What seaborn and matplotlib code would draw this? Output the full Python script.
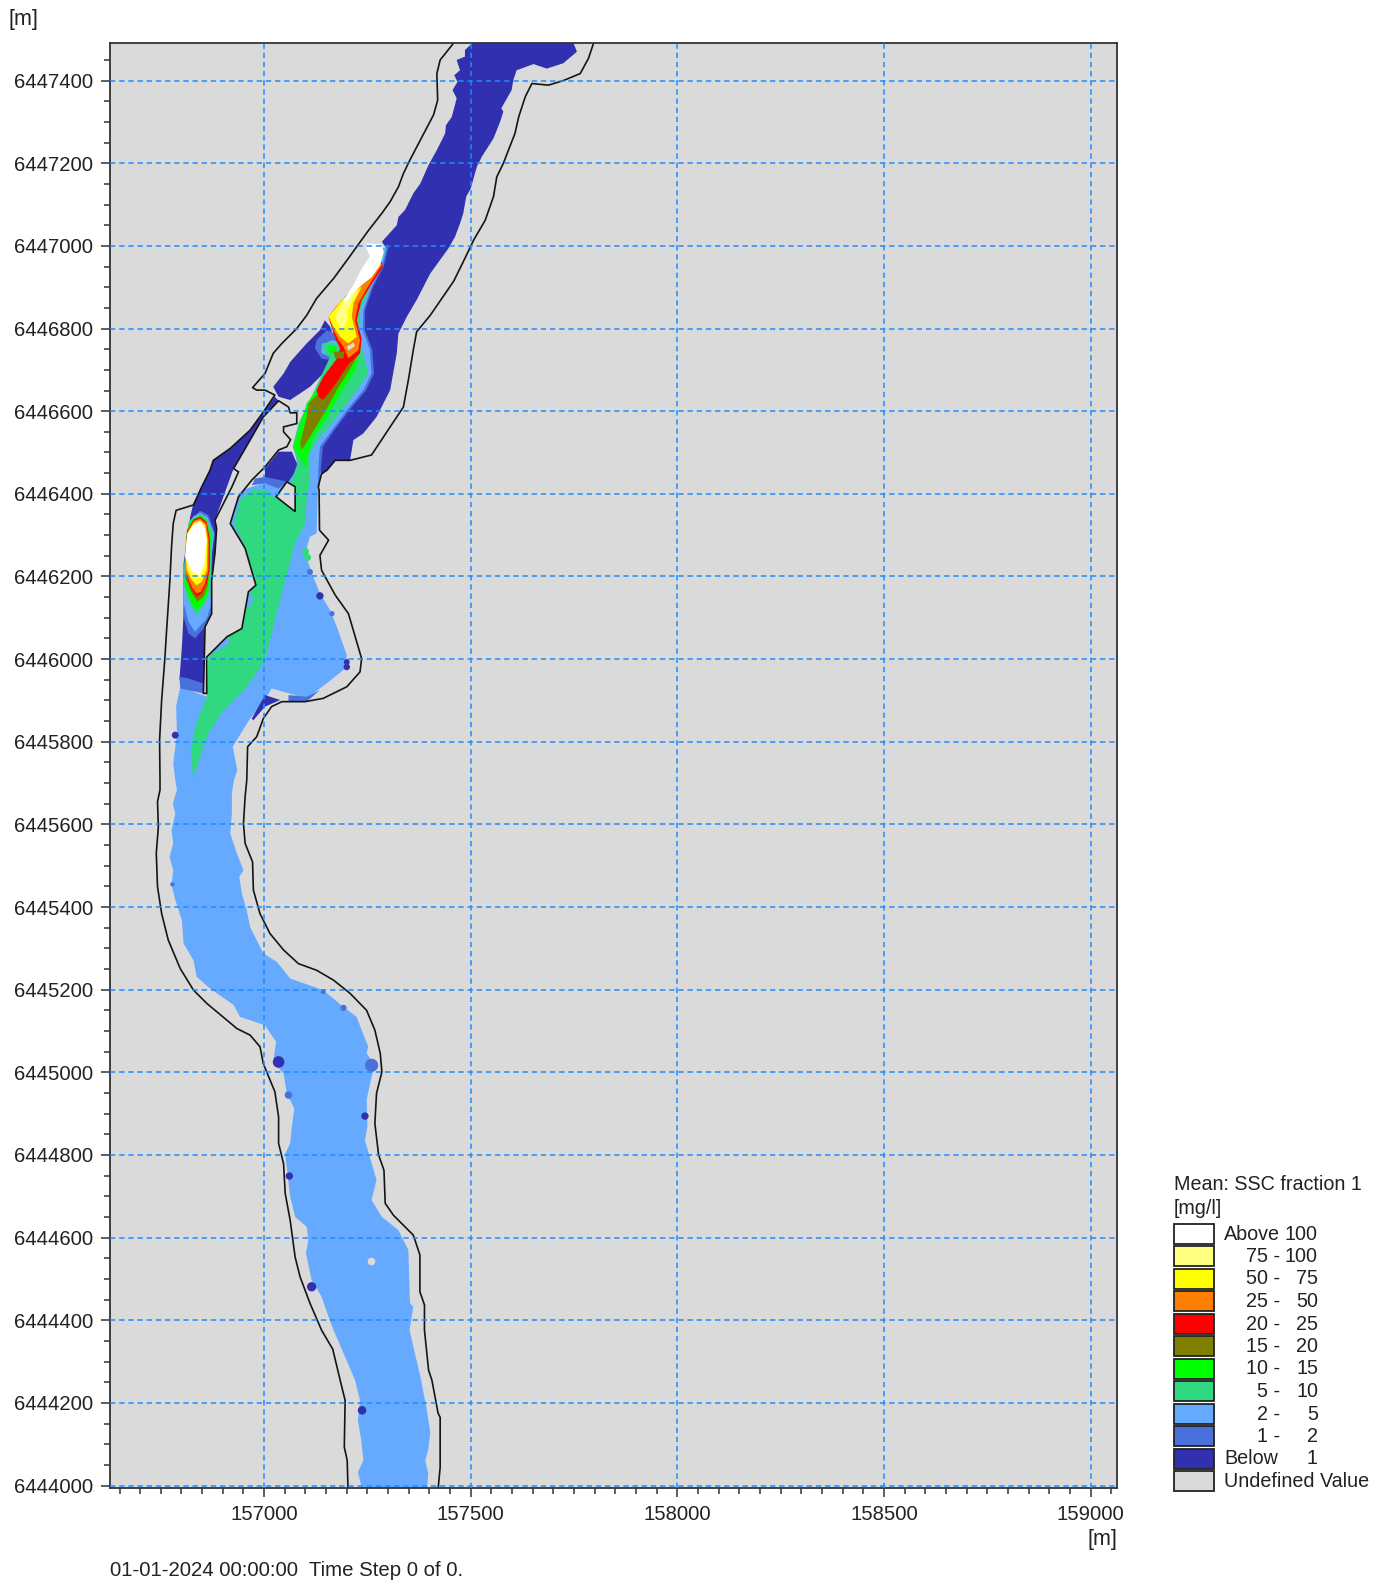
import matplotlib
matplotlib.use('Agg')
import matplotlib.pyplot as plt
import numpy as np
import pandas as pd
import seaborn as sns
from matplotlib.patches import Rectangle

# all outlines are metres east / north of these two values
EAST0 = 157000
NORTH0 = 6444000

west_bank = [(461,3500),(458,3490),(426,3450),(418,3417),(420,3353),(410,3317),(378,3256),(353,3208),(337,3175),
    (325,3143),(305,3107),(285,3079),(253,3038),(224,2998),(204,2970),(168,2921),(127,2873),(103,2832),(79,2800),
    (43,2764),(22,2740),(2,2691),(-28,2657),(-18,2651),(2,2651),(26,2639),(-2,2598),(-34,2554),(-82,2510),
    (-123,2481),(-131,2457),(-151,2417),(-171,2373),(-213,2360),(-220,2328),(-224,2272),(-228,2191),(-236,2070),
    (-240,2005),(-248,1901),(-253,1804),(-252,1707),(-252,1683),(-258,1655),(-256,1594),(-261,1530),(-258,1449),
    (-248,1384),(-232,1320),(-203,1251),(-171,1199),(-139,1167),(-66,1106),(-34,1090),(-10,1062),(-2,1021),(26,953),
    (35,892),(35,828),(47,779),(51,707),(63,642),(75,553),(87,505),(111,441),(139,376),(166,330),(184,255),(196,206),
    (194,93),(201,61),(203,-9)]
east_bank = [(800,3500),(797,3490),(785,3454),(765,3417),(724,3400),(688,3389),(648,3393),(632,3361),(616,3312),
    (607,3272),(579,3200),(563,3167),(555,3119),(535,3062),(507,3014),(486,2970),(459,2915),(402,2832),(369,2792),
    (361,2748),(349,2675),(337,2610),(305,2562),(260,2494),(208,2481),(172,2481),(152,2457),(139,2449),(131,2417),
    (133,2409),(134,2312),(156,2288),(135,2251),(139,2215),(172,2155),(204,2110),(236,2001),(232,1969),(200,1933),
    (143,1905),(99,1897),(43,1897),(18,1885),(-2,1856),(-18,1812),(-40,1788),(-42,1707),(-46,1667),(-50,1602),
    (-46,1554),(-28,1509),(-26,1441),(-10,1384),(14,1336),(47,1296),(83,1263),(127,1247),(168,1223),(208,1191),
    (248,1150),(268,1102),(281,1046),(285,1001),(272,949),(268,876),(277,800),(290,763),(293,683),(313,654),(361,606),
    (377,558),(377,469),(388,437),(388,376),(398,279),(406,255),(421,175),(426,165),(426,44),(421,-9)]
island_main = [(35,2625),(-2,2586),(-34,2530),(-74,2461),(-62,2453),(-78,2417),(-119,2336),(-115,2316),(-119,2256),
    (-127,2191),(-127,2110),(-143,2078),(-147,1917),(-139,1917),(-139,2005),(-90,2054),(-54,2074),(-38,2163),
    (-20,2179),(-46,2268),(-82,2328),(-62,2393),(-30,2433),(2,2465),(35,2506),(55,2514),(64,2531),(47,2550),
    (47,2562),(79,2570),(79,2596),(63,2596),(59,2610),(37,2624)]
island_small = [(55,2429),(29,2393),(75,2357),(75,2417)]

below1_main = [(503,3500),(503,3490),(486,3474),(486,3458),(466,3450),(474,3425),(460,3413),(468,3397),(456,3377),
    (466,3357),(454,3312),(440,3292),(438,3272),(418,3232),(398,3196),(378,3151),(361,3127),(341,3087),(325,3070),
    (321,3050),(285,3010),(293,2998),(281,2949),(256,2901),(236,2844),(232,2796),(248,2756),(256,2699),(240,2651),
    (200,2602),(164,2554),(135,2514),(135,2457),(139,2445),(152,2457),(172,2481),(208,2481),(216,2530),(240,2546),
    (272,2586),(305,2651),(321,2740),(325,2788),(345,2828),(369,2869),(402,2933),(446,2994),(462,3022),(474,3054),
    (482,3079),(489,3119),(500,3139),(515,3192),(527,3216),(555,3260),(571,3300),(579,3325),(574,3333),(599,3377),
    (603,3401),(611,3425),(652,3440),(684,3429),(724,3442),(757,3470),(749,3490),(745,3500)]
below1_nw = [(147,2820),(160,2804),(172,2764),(172,2727),(143,2691),(111,2659),(63,2627),(35,2635),(22,2659),
    (47,2691),(63,2719),(103,2764),(135,2796)]
below1_west = [(35,2625),(-2,2586),(-34,2530),(-74,2461),(-119,2336),(-115,2316),(-119,2256),(-127,2191),(-127,2110),
    (-144,2078),(-147,1917),(-195,1953),(-205,1949),(-199,2030),(-195,2110),(-195,2231),(-179,2344),(-171,2377),
    (-151,2417),(-131,2457),(-123,2481),(-82,2510),(-34,2554),(-2,2598),(26,2635)]
below1_patch = [(2,2461),(35,2502),(67,2502),(83,2465),(59,2429),(30,2417),(2,2437)]
below1_south = [(-30,1856),(2,1913),(39,1901),(2,1885),(-26,1852)]
below1_strip = [(59,1913),(103,1909),(135,1925),(103,1897),(59,1897)]

low_upper = [(301,2998),(289,2949),(264,2901),(244,2844),(244,2796),(262,2748),(266,2691),(247,2651),(206,2602),
    (170,2554),(142,2514),(137,2457),(134,2417),(79,2473),(79,2522),(103,2602),(160,2715),(281,2990)]
low_nw = [(152,2796),(127,2772),(123,2752),(139,2727),(172,2723),(184,2748),(172,2788)]
low_band = [(-22,2437),(2,2441),(59,2429),(35,2413),(2,2425),(-30,2421)]
low_west = [(-205,1957),(-183,1953),(-147,1941),(-147,1917),(-203,1929)]

mid_upper = [(297,2998),(285,2949),(260,2901),(240,2844),(239,2796),(256,2748),(260,2691),(240,2651),(200,2602),
    (164,2554),(135,2514),(131,2457),(131,2417),(79,2473),(79,2522),(103,2602),(160,2715),(281,2990)]
mid_nw = [(164,2772),(139,2760),(139,2740),(160,2731),(184,2740),(180,2768)]
mid_river = [(-203,1933),(-213,1885),(-211,1820),(-220,1747),(-215,1707),(-211,1683),(-221,1651),(-215,1626),
    (-224,1586),(-220,1554),(-229,1521),(-220,1489),(-224,1453),(-215,1417),(-199,1368),(-195,1312),(-171,1271),
    (-163,1231),(-131,1203),(-74,1163),(-58,1134),(2,1114),(29,1074),(22,1025),(47,997),(55,949),(73,912),(67,868),
    (63,828),(51,803),(63,699),(75,650),(103,626),(107,594),(101,562),(115,497),(139,457),(156,408),(168,376),
    (178,353),(220,255),(232,206),(227,158),(235,110),(240,61),(227,32),(240,-20),(394,-20),(397,30),(390,61),(397,85),
    (402,129),(394,182),(380,255),(352,376),(361,433),(353,441),(349,570),(325,618),(285,650),(260,691),(272,739),
    (244,836),(250,868),(248,933),(260,989),(268,1017),(248,1046),(252,1062),(236,1102),(224,1134),(192,1158),
    (143,1199),(63,1227),(31,1267),(-2,1288),(-34,1352),(-42,1392),(-54,1433),(-60,1473),(-50,1489),(-66,1530),
    (-82,1578),(-78,1626),(-78,1675),(-73,1707),(-65,1731),(-76,1788),(-34,1856),(2,1901),(18,1929),(103,1905),
    (151,1941),(196,1977),(200,2010),(176,2078),(160,2118),(135,2159),(119,2199),(99,2256),(111,2296),(127,2304),
    (131,2433),(131,2457),(79,2473),(60,2445),(30,2425),(-10,2423),(-45,2412),(-70,2385),(-80,2328),(-139,1909)]
mid_spot1 = [(-38,2159),(-26,2151),(-34,2126),(-42,2122)]
mid_spot2 = [(-135,2005),(-90,2054),(-82,2039),(-123,2014)]

green_upper = [(293,2990),(279,2945),(255,2897),(232,2844),(228,2796),(240,2740),(252,2691),(224,2651),(176,2586),
    (135,2538),(111,2498),(111,2465),(79,2481),(69,2514),(83,2570),(103,2611),(152,2715),(281,2990)]
green_nw = [(140,2764),(168,2768),(172,2736),(148,2736)]
green_main = [(-74,2328),(-46,2272),(-20,2179),(-38,2163),(-54,2074),(-90,2054),(-135,2005),(-139,1909),(-167,1836),
    (-178,1780),(-171,1711),(-155,1764),(-135,1820),(-99,1876),(-42,1933),(2,1997),(22,2078),(47,2175),(75,2280),
    (99,2328),(103,2385),(111,2433),(111,2465),(83,2481),(67,2433),(35,2385),(2,2410),(-30,2410),(-58,2385)]

lime_upper = [(290,2990),(277,2945),(252,2897),(228,2844),(224,2796),(228,2731),(220,2699),(184,2643),(152,2586),
    (119,2538),(103,2489),(103,2461),(91,2481),(71,2514),(79,2538),(103,2619),(135,2659),(176,2723),(281,2990)]
lime_nw = [(156,2756),(172,2760),(176,2736),(156,2744)]
olive_main = [(108,2619),(127,2639),(143,2627),(176,2675),(208,2719),(228,2740),(216,2715),(176,2651),(147,2598),
    (111,2538),(91,2506),(87,2522),(103,2586)]
olive_spot = [(168,2744),(194,2744),(192,2728),(172,2728)]
red_lower = [(127,2651),(143,2683),(176,2727),(228,2744),(200,2707),(168,2659),(143,2627),(131,2635)]
red_upper = [(156,2827),(168,2845),(192,2873),(285,2962),(287,2949),(261,2909),(236,2869),(224,2820),(236,2776),
    (232,2740),(216,2724),(184,2699),(172,2716),(184,2752),(176,2768),(168,2788)]
orange_upper = [(156,2829),(192,2873),(281,2958),(285,2954),(256,2909),(228,2861),(220,2820),(232,2772),(228,2748),
    (204,2728),(192,2756),(180,2772),(168,2796)]
yellow_upper = [(156,2829),(192,2873),(236,2901),(216,2861),(212,2829),(224,2780),(204,2764),(184,2780),(168,2804)]
pale_upper = [(172,2833),(192,2865),(228,2893),(204,2849),(200,2812),(188,2800),(176,2816)]
white_upper = [(248,3006),(281,3004),(290,2986),(281,2954),(261,2925),(236,2905),(212,2881),(196,2861),(192,2869),
    (216,2905),(236,2945),(256,2974),(248,2994)]
gap_spot = [(200,2756),(216,2766),(220,2758),(204,2746)]

# hot spot in the west channel, one outline per class
blob_low = [(-155,2359),(-135,2349),(-119,2304),(-127,2248),(-127,2111),(-143,2078),(-167,2050),(-183,2062),(-195,2102),(-193,2224),(-183,2328)]
blob_mid = [(-155,2354),(-137,2344),(-121,2304),(-128,2248),(-127,2135),(-139,2098),(-167,2066),(-183,2090),(-195,2135),(-193,2224),(-183,2328),(-171,2346)]
blob_green = [(-155,2351),(-139,2340),(-124,2304),(-128,2224),(-131,2159),(-147,2127),(-163,2107),(-181,2135),(-193,2175),(-193,2224),(-189,2296),(-181,2335)]
blob_lime = [(-155,2348),(-143,2340),(-129,2304),(-131,2224),(-135,2167),(-147,2135),(-165,2117),(-181,2147),(-193,2183),(-191,2224),(-187,2296),(-181,2331)]
blob_olive = [(-155,2346),(-139,2328),(-131,2288),(-132,2224),(-137,2175),(-147,2151),(-161,2139),(-175,2159),(-190,2195),(-187,2312)]
blob_red = [(-155,2344),(-139,2332),(-131,2288),(-132,2215),(-139,2183),(-151,2159),(-163,2151),(-175,2167),(-189,2203),(-187,2308),(-171,2338)]
blob_orange = [(-155,2340),(-140,2328),(-134,2288),(-135,2215),(-143,2183),(-153,2163),(-163,2159),(-173,2171),(-189,2207),(-189,2248),(-185,2308),(-170,2335)]
blob_yellow = [(-155,2336),(-143,2324),(-137,2288),(-139,2215),(-151,2187),(-163,2179),(-175,2191),(-187,2215),(-190,2248),(-186,2304),(-170,2330)]
blob_pale = [(-155,2334),(-145,2322),(-139,2288),(-143,2224),(-153,2199),(-167,2195),(-181,2215),(-190,2244),(-186,2304),(-170,2328)]
blob_white = [(-155,2331),(-143,2316),(-139,2288),(-147,2228),(-157,2203),(-175,2215),(-191,2248),(-186,2300),(-171,2324)]

# small isolated cells
dark_east = [35,244,61,115,237,-215,135,200,200]
dark_north = [1025,894,749,481,182,1816,2153,1993,1981]
dark_size = [70,28,28,45,38,25,28,18,22]
low_east = [260,59,143,192,-222,164,111]
low_north = [1017,945,1195,1156,1455,2110,2211]
low_size = [90,30,12,20,10,14,18]
green_spots_east = [99,103]
green_spots_north = [2262,2246]
hole_east = [259]
hole_north = [543]

legend_low = ['', '75 -', '50 -', '25 -', '20 -', '15 -', '10 -', '5 -', '2 -', '1 -', '', '']
legend_high = ['100', '100', '75', '50', '25', '20', '15', '10', '5', '2', '1', '']
legend_head = ['Above', '', '', '', '', '', '', '', '', '', 'Below', 'Undefined Value']
legend_colors = ['#FFFFFF', '#FFFF80', '#FFFF00', '#FF8000', '#FF0000', '#808000', '#00FF00', '#30D880', '#66AAFF',
    '#4A70DC', '#3030B0', '#DADADA']
x_ticks = [157000, 157500, 158000, 158500, 159000]
y_ticks = [6444000, 6444200, 6444400, 6444600, 6444800, 6445000, 6445200, 6445400, 6445600, 6445800, 6446000,
    6446200, 6446400, 6446600, 6446800, 6447000, 6447200, 6447400]

WHITE, PALE, YELLOW, ORANGE, RED, OLIVE, LIME, GREEN, BLUE, LOW, BELOW, BG = legend_colors

sns.set_style('white')
plt.rcParams['font.family'] = ['Liberation Sans', 'DejaVu Sans']
plt.rcParams['font.size'] = 14.2
TXT = '#222222'

W, H = 1387, 1580
fig = plt.figure(figsize=(W / 100, H / 100), dpi=100)
ax = fig.add_axes([110 / W, 1 - 1488 / H, (1117 - 110) / W, (1488 - 43) / H])
ax.set_facecolor(BG)


def fill_poly(pts, color):
    arr = np.array(pts, dtype=float)
    ax.fill(EAST0 + arr[:, 0], NORTH0 + arr[:, 1], color=color, lw=0)


layers = [(below1_main, BELOW), (below1_nw, BELOW), (below1_west, BELOW), (mid_river, BLUE), (low_upper, LOW),
    (mid_upper, BLUE), (low_nw, LOW), (mid_nw, BLUE), (below1_patch, BELOW), (low_band, LOW), (low_west, LOW),
    (below1_south, BELOW), (below1_strip, LOW), (green_main, GREEN), (green_upper, GREEN), (green_nw, GREEN),
    (mid_spot1, BLUE), (mid_spot2, BLUE), (lime_upper, LIME), (lime_nw, LIME), (olive_main, OLIVE), (red_upper, RED),
    (red_lower, RED), (orange_upper, ORANGE), (yellow_upper, YELLOW), (pale_upper, PALE), (white_upper, WHITE),
    (olive_spot, OLIVE), (gap_spot, BG), (blob_low, LOW), (blob_mid, BLUE), (blob_green, GREEN), (blob_lime, LIME),
    (blob_olive, OLIVE), (blob_red, RED), (blob_orange, ORANGE), (blob_yellow, YELLOW), (blob_pale, PALE),
    (blob_white, WHITE)]
for pts, col in layers:
    fill_poly(pts, col)

dark = pd.DataFrame({'e': EAST0 + np.array(dark_east), 'n': NORTH0 + np.array(dark_north), 's': dark_size})
sns.scatterplot(data=dark, x='e', y='n', color=BELOW, s=dark['s'].values, linewidth=0, ax=ax, legend=False)
low = pd.DataFrame({'e': EAST0 + np.array(low_east), 'n': NORTH0 + np.array(low_north), 's': low_size})
sns.scatterplot(data=low, x='e', y='n', color=LOW, s=low['s'].values, linewidth=0, ax=ax, legend=False)
ax.scatter(EAST0 + np.array(green_spots_east), NORTH0 + np.array(green_spots_north), color=GREEN, s=25, lw=0)
ax.scatter(EAST0 + np.array(hole_east), NORTH0 + np.array(hole_north), color=BG, s=30, lw=0)

for pts in [island_main, island_small]:
    arr = np.array(pts, dtype=float)
    ax.fill(EAST0 + arr[:, 0], NORTH0 + arr[:, 1], facecolor=BG, edgecolor='#151515', lw=1.2)
for pts in [west_bank, east_bank]:
    arr = np.array(pts, dtype=float)
    ax.plot(EAST0 + arr[:, 0], NORTH0 + arr[:, 1], color='#151515', lw=1.2)

ax.set_xlim(156627, 159064)
ax.set_ylim(6443994, 6447491)
ax.set_xlabel('')
ax.set_ylabel('')
ax.set_xticks(x_ticks)
ax.set_yticks(y_ticks)
ax.set_xticklabels([str(v) for v in x_ticks])
ax.set_yticklabels([str(v) for v in y_ticks])
ax.set_xticks(np.arange(156650, 159064, 50), minor=True)
ax.set_yticks(np.arange(6444000, 6447491, 50), minor=True)
ax.tick_params(which='major', length=6.5, width=1.1, color='#333333', labelcolor=TXT, labelsize=14.6, pad=5.5,
    bottom=True, left=True)
ax.tick_params(which='minor', length=4.3, width=1.1, color='#333333', bottom=True, left=True)
ax.grid(True, which='major', color='#1E8CFF', lw=1.1, linestyle=(0, (3.5, 2.5)))
ax.set_axisbelow(False)
for s in ax.spines.values():
    s.set_color('#333333')
    s.set_linewidth(1.3)

# page level text and the class legend, laid out in image pixels
pg = fig.add_axes([0, 0, 1, 1], facecolor='none')
pg.set_xlim(0, W)
pg.set_ylim(H, 0)
pg.axis('off')
pg.text(8, 20, '[m]', color=TXT, va='center', ha='left', fontsize=15.5)
pg.text(1117, 1539, '[m]', color=TXT, va='center', ha='right', fontsize=15.5)
pg.text(110, 1570, '01-01-2024 00:00:00  Time Step 0 of 0.', color=TXT, va='center', ha='left', fontsize=14.7)
pg.text(1174, 1184, 'Mean: SSC fraction 1', color=TXT, va='center', ha='left')
pg.text(1174, 1208, '[mg/l]', color=TXT, va='center', ha='left')
for i, col in enumerate(legend_colors):
    yc = 1233.5 + 22.5 * i
    pg.add_patch(Rectangle((1174, yc - 10), 39.5, 20, facecolor=col, edgecolor='#222222', lw=1.3))
    if legend_head[i]:
        pg.text(1224, yc + 0.5, legend_head[i], color=TXT, va='center', ha='left')
    if legend_low[i]:
        pg.text(1280, yc + 0.5, legend_low[i], color=TXT, va='center', ha='right')
    if legend_high[i]:
        pg.text(1318, yc + 0.5, legend_high[i], color=TXT, va='center', ha='right')

fig.savefig('out.png', dpi=100)
